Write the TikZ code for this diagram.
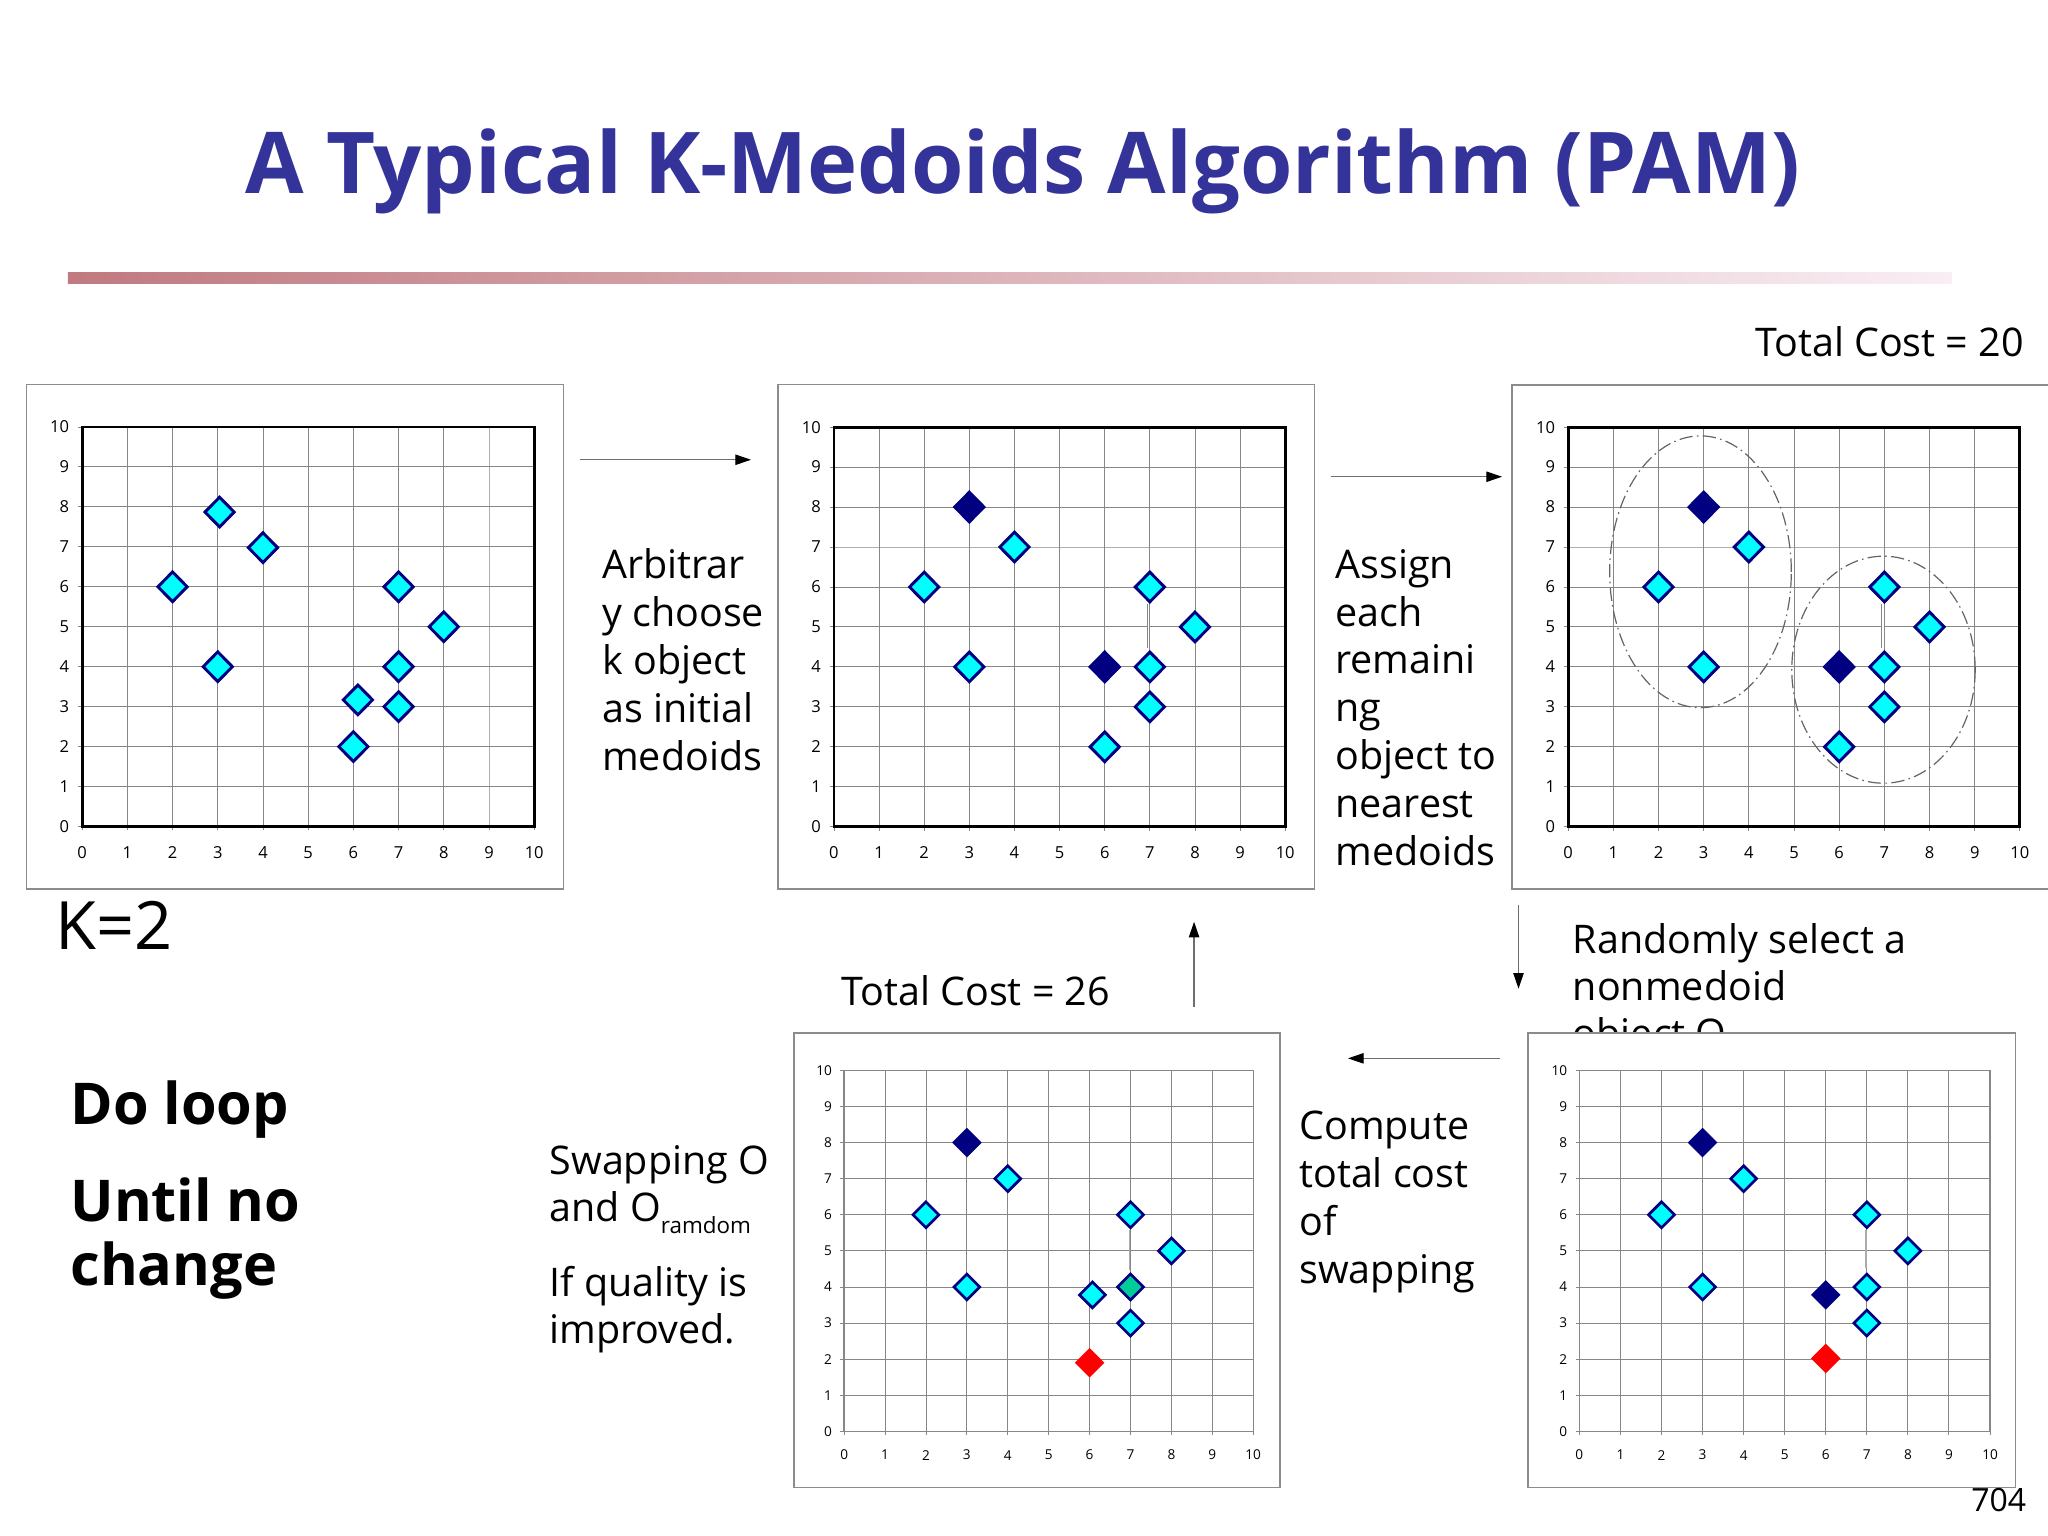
\documentclass[tikz,border=0pt]{standalone}
\usepackage{fontspec}
\setmainfont{Open Sans}
\usetikzlibrary{arrows.meta,shapes.geometric}

\definecolor{titleblue}{RGB}{51,51,153}
\definecolor{navyc}{RGB}{0,0,128}
\definecolor{cyanc}{RGB}{0,255,255}
\definecolor{greenc}{RGB}{0,204,153}
\definecolor{redc}{RGB}{255,0,0}
\definecolor{gridgray}{RGB}{135,135,135}
\definecolor{panelgray}{RGB}{140,140,140}
\definecolor{barleft}{RGB}{192,122,128}
\definecolor{barmid}{RGB}{218,168,178}
\definecolor{barright}{RGB}{248,238,244}
\definecolor{arrowgray}{RGB}{110,110,110}
\definecolor{ellgray}{RGB}{100,100,100}

\tikzset{
  chart/.style n args={4}{shift={({#1*0.4898pt},{-#3*0.4898pt})},
     x={({(#2-#1)*0.04898pt},0pt)}, y={(0pt,{(#3-#4)*0.04898pt})}},
  gridline/.style={draw=gridgray, line width=0.35pt},
  topframe/.style={draw=black, line width=1.1pt},
  botframe/.style={draw=gridgray, line width=0.55pt},
  panel/.style={draw=panelgray, line width=0.6pt, fill=white},
  xlabtop/.style={anchor=center, inner sep=0pt, yshift=-9.65pt, font=\fontsize{6.2}{7}\selectfont},
  ylabtop/.style={anchor=east, inner sep=0pt, xshift=-4.7pt, font=\fontsize{6.2}{7}\selectfont},
  xlabbot/.style={anchor=center, inner sep=0pt, yshift=-8.9pt, font=\fontsize{5.1}{6}\selectfont},
  ylabbot/.style={anchor=east, inner sep=0pt, xshift=-4.4pt, font=\fontsize{5.1}{6}\selectfont},
  dmdtop/.style={shape=diamond, inner sep=0pt, minimum width=11.4pt, minimum height=11.6pt, draw=navyc, line width=1.1pt},
  dmdbot/.style={shape=diamond, inner sep=0pt, minimum width=10.1pt, minimum height=10.1pt, draw=navyc, line width=1pt},
  pc/.style={fill=cyanc}, pn/.style={fill=navyc}, pr/.style={fill=redc, draw=redc}, pg/.style={fill=greenc},
  txt/.style={anchor=base west, inner sep=0pt, font=\fontsize{14.8}{18}\selectfont},
  bigtxt/.style={anchor=base west, inner sep=0pt, font=\fontsize{25}{30}\selectfont},
  boldtxt/.style={anchor=base west, inner sep=0pt, font=\fontsize{21.6}{26}\selectfont\bfseries},
  conn/.style={draw=arrowgray, line width=0.45pt, -{Triangle[length=5.9pt, width=3.9pt, color=black]}},
  cluster/.style={draw=ellgray, line width=0.45pt, dash pattern=on 5pt off 1.6pt on 0.6pt off 1.6pt},
  pairline/.style={draw=gridgray, line width=0.3pt, double=white, double distance=0.6pt},
  oneline/.style={draw=gridgray!70, line width=0.5pt},
}

\newcommand\chartgrid[2]{%
  \foreach \i in {0,...,10}{
    \draw[gridline] (\i,10) -- (\i,0) -- ++(0pt,-1.4pt);
    \draw[gridline] (10,\i) -- (0,\i) -- ++(-1.4pt,0pt);
    \node[xlab#2] (#1x\i) at (\i,0) {\i};
    \node[ylab#2] (#1y\i) at (0,\i) {\i};
  }}

\begin{document}
\begin{tikzpicture}[x=0.4898pt, y=-0.4898pt]
\useasboundingbox (0,0) rectangle (1568,1176);
\fill[white] (0,0) rectangle (1568,1176);
\clip (0,0) rectangle (1568,1176);

% title and bar
\node[anchor=base, inner sep=0pt, text=titleblue] (title) at (783,148)
  {\resizebox{582.9pt}{24.3pt}{\bfseries A Typical K-Medoids Algorithm (PAM)}};
\shade[left color=barleft, middle color=barmid, right color=barright] (52,208.8) rectangle (1494,217);

% texts
\node[txt, anchor=base east] (tc20) at (1550,273.1) {Total Cost = 20};

\node[txt] (ar1) at (460.7,442.8) {Arbitrar};
\node[txt] (ar2) at (460.7,479.55) {y choose};
\node[txt] (ar3) at (460.7,516.3) {k object};
\node[txt] (ar4) at (460.7,553.05) {as initial};
\node[txt] (ar5) at (460.7,589.8) {medoids};

\node[txt] (as1) at (1022,442.8) {Assign};
\node[txt] (as2) at (1022,479.4) {each};
\node[txt] (as3) at (1022,516.0) {remaini};
\node[txt] (as4) at (1022,552.6) {ng};
\node[txt] (as5) at (1022,589.2) {object to};
\node[txt] (as6) at (1022,625.8) {nearest};
\node[txt] (as7) at (1022,662.4) {medoids};

\node[txt] (rs1) at (1203.8,730.4) {Randomly select a};
\node[txt] (rs2) at (1203.8,766.2) {nonmedoid};
\node[txt] (rs3) at (1203.8,802.0) {object O};

\node[txt] (tc26) at (643.7,769.5) {Total Cost = 26};

\node[txt] (cp1) at (994.4,872.8) {Compute};
\node[txt] (cp2) at (994.4,909.4) {total cost};
\node[txt] (cp3) at (994.4,946.0) {of};
\node[txt] (cp4) at (994.4,982.6) {swapping};

\node[txt] (sw1) at (420.4,899.6) {Swapping O};
\node[txt] (sw2) at (420.4,935.4) {and O\raisebox{-4.3pt}{\fontsize{8.4}{10}\selectfont ramdom}};
\node[txt] (sw3) at (420.4,992.8) {If quality is};
\node[txt] (sw4) at (420.4,1028.5) {improved.};

\node[bigtxt] (k2) at (42,726.6) {K=2};
\node[boldtxt] (dl1) at (53.6,861.3) {Do loop};
\node[boldtxt] (dl2) at (53.6,935.4) {Until no};
\node[boldtxt] (dl3) at (53.6,984.0) {change};

% arrows
\coordinate (a1s) at (444,352);   \coordinate (a1e) at (575,352);
\coordinate (a2s) at (1019,365);  \coordinate (a2e) at (1150,365);
\coordinate (a3s) at (1162.6,693); \coordinate (a3e) at (1162.6,757);
\coordinate (a4s) at (1148.8,810.3); \coordinate (a4e) at (1032,810.3);
\coordinate (a5s) at (914.2,770.7); \coordinate (a5e) at (914.2,705.7);
\draw[conn] (a1s) -- (a1e);
\draw[conn] (a2s) -- (a2e);
\draw[conn] (a3s) -- (a3e);
\draw[conn] (a4s) -- (a4e);
\draw[conn] (a5s) -- (a5e);

% chart 1
\draw[panel] (20.4,294.3) rectangle (431.3,680.7);
\begin{scope}[chart={62.9}{409.0}{632.8}{326.9}]
  \chartgrid{ga}{top}
  \draw[topframe] (0,0) rectangle (10,10);
  \foreach \px/\py [count=\k] in {3.04/7.87, 4/6.98, 2/6, 7/6, 8/5, 3/4, 7/4, 6.1/3.17, 7/3, 6/2}
    \node[dmdtop, pc] (ga\k) at (\px,\py) {};
\end{scope}

% chart 2
\draw[panel] (595.8,294.3) rectangle (1006.4,680.7);
\begin{scope}[chart={638.5}{984}{633}{327}]
  \chartgrid{gb}{top}
  \draw[topframe] (0,0) rectangle (10,10);
  \draw[pairline] (6.97,4.48) -- (6.97,5.58);
  \foreach \px/\py [count=\k] in {4/7, 2/6, 7/6, 8/5, 3/4, 7/4, 7/3, 6/2}
    \node[dmdtop, pc] (gb\k) at (\px,\py) {};
  \node[dmdtop, pn] (gbm1) at (3,8) {};
  \node[dmdtop, pn] (gbm2) at (6,4) {};
\end{scope}

% chart 3
\draw[panel] (1157.8,294.9) rectangle (1600,680.7);
\begin{scope}[chart={1200.6}{1546.5}{633}{327}]
  \chartgrid{gc}{top}
  \draw[topframe] (0,0) rectangle (10,10);
  \draw[cluster] (2.93,6.38) ellipse [x radius=2.01, y radius=3.40];
  \draw[cluster] (6.98,3.93) ellipse [x radius=2.03, y radius=2.84];
  \draw[pairline] (6.97,4.48) -- (6.97,5.58);
  \foreach \px/\py [count=\k] in {4/7, 2/6, 7/6, 8/5, 3/4, 7/4, 7/3, 6/2}
    \node[dmdtop, pc] (gc\k) at (\px,\py) {};
  \node[dmdtop, pn] (gcm1) at (3,8) {};
  \node[dmdtop, pn] (gcm2) at (6,4) {};
\end{scope}

% chart 4
\draw[panel] (607.7,791) rectangle (979.9,1138.9);
\begin{scope}[chart={646.3}{959.5}{1095.9}{819.5}]
  \chartgrid{gd}{bot}
  \draw[botframe] (0,0) rectangle (10,10);
  \draw[oneline] (6.98,4.48) -- (6.98,5.58);
  \foreach \px/\py [count=\k] in {4/7, 2/6, 7/6, 8/5, 3/4, 6.07/3.78, 7/3}
    \node[dmdbot, pc] (gd\k) at (\px,\py) {};
  \node[dmdbot, pn] (gdm1) at (3,8) {};
  \node[dmdbot, pg] (gdo) at (7,4) {};
  \node[dmdbot, pr] (gdr) at (6,1.9) {};
\end{scope}

% chart 5
\draw[panel] (1170,791) rectangle (1543,1139);
\begin{scope}[chart={1209.2}{1523.6}{1095.9}{819.5}]
  \chartgrid{ge}{bot}
  \draw[botframe] (0,0) rectangle (10,10);
  \draw[oneline] (6.98,4.52) -- (6.98,5.58);
  \foreach \px/\py [count=\k] in {4/7, 2/6, 7/6, 8/5, 3/4, 7/4, 7/3}
    \node[dmdbot, pc] (ge\k) at (\px,\py) {};
  \node[dmdbot, pn] (gem1) at (3,8) {};
  \node[dmdbot, pn] (gem2) at (6,3.78) {};
  \node[dmdbot, pr] (ger) at (6,2.02) {};
\end{scope}

% page number (on top)
\node[anchor=base east, inner sep=0pt, font=\fontsize{12}{14}\selectfont] (pg) at (1551.7,1157) {704};
\end{tikzpicture}
\end{document}
